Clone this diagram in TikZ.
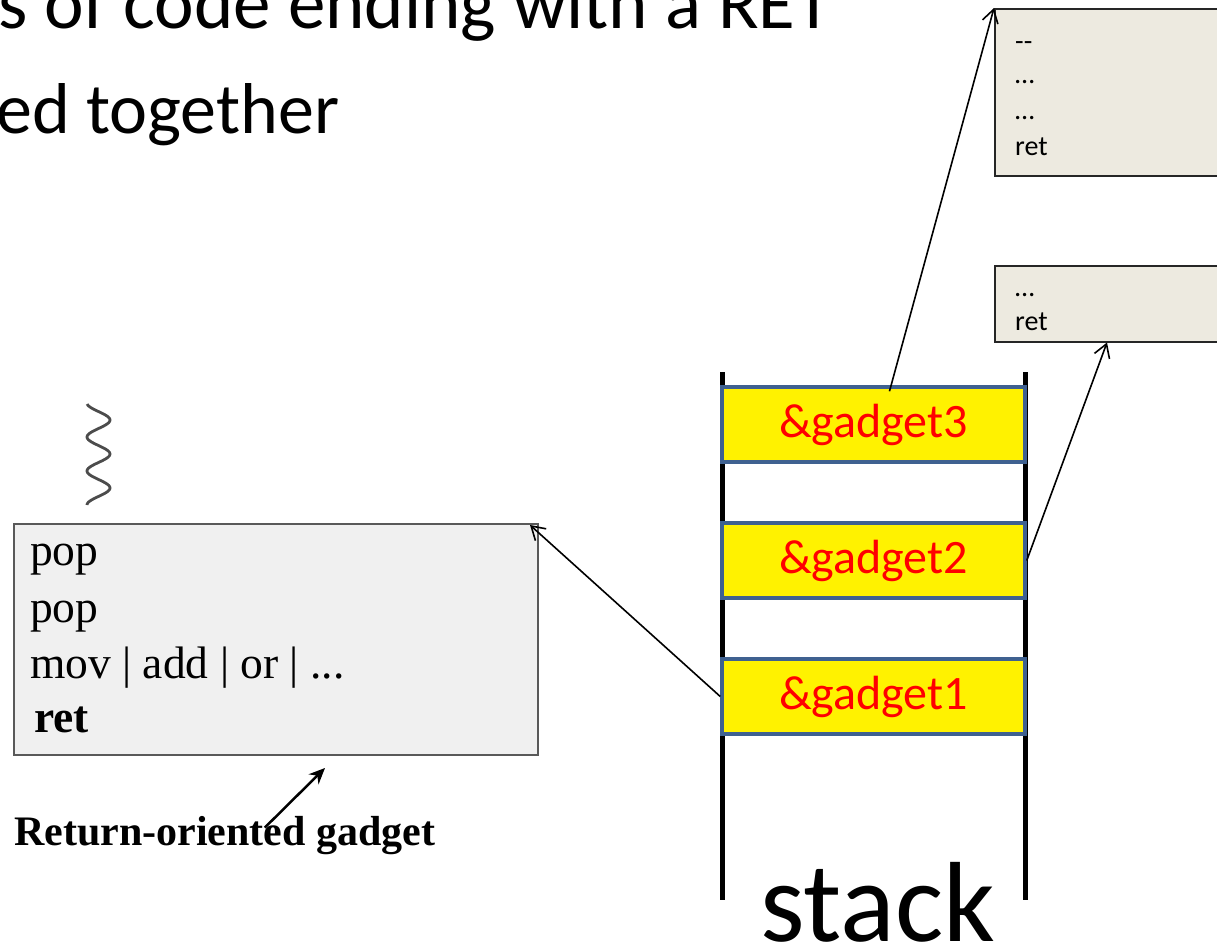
\documentclass[tikz,border=0pt]{standalone}
\usepackage{fontspec}
\setmainfont{Carlito}
\newfontfamily\timesfont{Liberation Serif}
\usepackage{xcolor}
\usetikzlibrary{arrows, arrows.meta, positioning}
\definecolor{framebd}{HTML}{3F6190}
\definecolor{gadgetbg}{HTML}{F0F0F0}
\definecolor{codebg}{HTML}{EDEAE0}
\tikzstyle{frame} = [rectangle, minimum width=303bp, minimum height=75bp, draw=framebd, line width=3.5bp, fill=yellow, text=red, font=\fontsize{48bp}{58bp}\selectfont]
\tikzstyle{codebox} = [rectangle, anchor=north west, minimum width=260bp, draw=black!85, line width=1.5bp, fill=codebg]
\tikzstyle{codeline} = [anchor=base west, inner sep=0pt, font=\fontsize{28bp}{34bp}\selectfont]
\tikzstyle{asmline} = [anchor=base west, inner sep=0pt, font=\timesfont\fontsize{45.5bp}{54bp}\selectfont]
\tikzstyle{headline} = [anchor=base west, inner sep=0pt, font=\fontsize{72bp}{86bp}\selectfont]
\tikzstyle{pointer} = [line width=1.6bp, ->, >={Straight Barb[length=13bp,width=16bp]}]
\tikzstyle{rail} = [line width=5bp]

\begin{document}
\begin{tikzpicture}[x=1bp, y=-1bp, node distance=136bp]
        \useasboundingbox (0,0) rectangle (1217,948);

        % slide text, cut at the left
        \node [headline, font=\fontsize{75bp}{90bp}\selectfont] (line1) at (-2,28) {s of code ending with a RET};
        \node [headline] (line2) at (-4,133) {ed together};

        % the stack
        \draw [rail] (722,372) -- (722,900);
        \draw [rail] (1025,372) -- (1025,900);
        \node [frame] (g3) at (873.5,424.5) {\&gadget3};
        \node [frame, below of=g3] (g2) {\&gadget2};
        \node [frame, below of=g2] (g1) {\&gadget1};
        \node [anchor=base, inner sep=0pt, font=\fontsize{114bp}{130bp}\selectfont] (stk) at (878,941) {stack};

        % gadgets in memory
        \node [codebox, minimum height=167bp] (boxA) at (994,8) {};
        \node [codeline] (a1) at (1015,50) {-\kern0pt-};
        \node [codeline] (a2) at (1015,83) {…};
        \node [codeline] (a3) at (1015,119) {…};
        \node [codeline] (a4) at (1015,155) {ret};
        \node [codebox, minimum height=76bp] (boxB) at (994,265) {};
        \node [codeline] (b1) at (1015,296) {…};
        \node [codeline] (b2) at (1015,330) {ret};

        % the return-oriented gadget
        \draw [black!70, line width=2.8bp] plot [domain=404:505, samples=100, smooth] ({98.5+11.5*sin(-80+(\x-404)*10.6)}, \x);
        \node [rectangle, anchor=north west, minimum width=524bp, minimum height=231bp, draw=black!65, line width=2bp, fill=gadgetbg] (gbox) at (13,523) {};
        \node [asmline] (pop1) at (30,565) {pop};
        \node [asmline] (pop2) at (30,622) {pop};
        \node [asmline] (alu) at (30,678) {mov | add | or | ...};
        \node [asmline, font=\timesfont\bfseries\fontsize{45.5bp}{54bp}\selectfont] (ret) at (34,732) {ret};
        \node [anchor=base west, inner sep=0pt, font=\timesfont\bfseries\fontsize{42bp}{50bp}\selectfont] (rog) at (14,845) {Return-oriented gadget};
        \coordinate (rogtip) at (325,768);
        \draw [line width=2.5bp, -{Stealth[length=16bp,width=14bp]}] ([xshift=40bp,yshift=-12bp]rog.north) -- (rogtip);

        % return addresses
        \draw [pointer] ([xshift=16bp,yshift=-6bp]g3.north) -- (boxA.north west);
        \draw [pointer] (g2.east) -- ([xshift=113bp]boxB.south west);
        \draw [pointer] (g1.west) -- ([xshift=-9bp,yshift=-2bp]gbox.north east);
    \end{tikzpicture}
\end{document}
